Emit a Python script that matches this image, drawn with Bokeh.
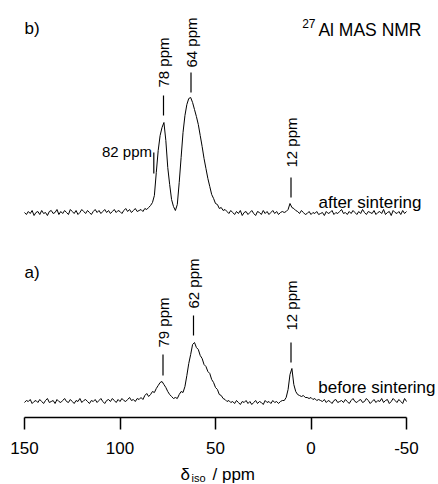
import math
from bokeh.plotting import figure
from bokeh.models import Range1d, FixedTicker, Label
from bokeh.layouts import column
from bokeh.embed import file_html
from bokeh.resources import INLINE

# ---------------- data ----------------
ppm = list(range(150, -51, -1))

# b) after sintering (intensity, arbitrary units) 150 -> -50 ppm, 1 ppm steps
after_sintering = [
    # 150 .. 91
    0, -2, 1, -1, 2, -3, 0, 1, -2, 2, -1, 0, -3, 1, 2, -1, 0, 3, -2, 1,
    -1, 2, 0, -2, 3, 1, -1, 2, -2, 0, 3, 1, -1, 2, 0, -2, 1, 3, 0, 2,
    -1, 1, 3, 0, 2, -1, 1, 3, 0, 2, 1, -1, 2, 4, 1, 3, 0, 2, 4, 1,
    # 90 .. 45
    2, 3, 1, 4, 3, 5, 7, 10, 17, 40, 62, 77, 85, 90, 72, 45, 28, 13, 6, 2,
    8, 30, 55, 80, 97, 108, 114, 115, 110, 103, 96, 88, 77, 66, 54, 44, 34, 26, 18, 14,
    9, 8, 4, 5, 2, 3,
    # 44 .. 15
    1, -1, 2, 0, -2, 1, -1, 2, -3, 0, 1, -2, 0, 2, -1, -3, 1, 0, -2, 2,
    -1, 1, -2, 0, 2, -1, 1, -2, 0, 1,
    # 14 .. 8
    0, 1, 3, 9, 5, 4, 2,
    # 7 .. -50
    1, -1, 2, 0, -2, -1, 1, -2, 0, -1, 1, -2, -1, 0, -3, 1, -1, 0, 2, -2,
    0, -1, 1, 3, -1, 0, -2, 1, -1, 2, 0, -2, 1, -1, 3, 0, -2, 1, 0, -1,
    2, -2, 0, 1, -1, 3, -2, 0, 1, -3, 2, 0, -1, 1, -2, 2, -1, 1,
]

# a) before sintering
before_sintering = [
    # 150 .. 91
    -1, 1, 0, 2, -2, 0, 1, -1, 2, 0, -2, 1, 3, -1, 0, 1, -2, 2, 0, -1,
    1, 3, 0, -1, 2, 0, -2, 1, 0, 3, -1, 1, 2, 0, -2, 1, 0, 2, -1, 1,
    3, 0, -2, 1, 2, 0, 3, 1, -1, 2, 0, 3, 1, 0, 2, 4, 1, 2, 0, 3,
    # 90 .. 43
    2, 4, 2, 6, 8, 5, 7, 10, 9, 13, 16, 19, 20, 17, 14, 10, 7, 5, 3, 4,
    3, 7, 10, 9, 15, 26, 38, 47, 57, 59, 54, 52, 46, 43, 37, 35, 30, 28, 22, 19,
    14, 12, 7, 6, 3, 2, 0, 1,
    # 42 .. 16
    -1, 0, -2, 1, -1, -3, 0, -1, 1, -2, 0, -3, -1, 1, -2, 0, -1, -3, 1, -1,
    0, -2, 1, -1, 0, -2, 0,
    # 15 .. -5
    1, 1, 4, 12, 27, 33, 17, 10, 7, 6, 5, 6, 4, 4, 3, 4, 2, 3, 1, 2, 1,
    # -6 .. -50
    0, 2, -1, 1, 0, -2, 1, 2, -1, 0, 1, -1, 2, 0, -2, 1, 3, 0, -1, 1,
    2, -1, 0, 3, 1, -2, 0, 2, -1, 1, 0, 3, -1, 1, 2, -2, 0, 3, 1, -1, 2, 0, -2, 3, 0,
]

tick_values = [150, 100, 50, 0, -50]
tick_labels = ["150", "100", "50", "0", "-50"]

after_peak_labels = ["78 ppm", "64 ppm", "12 ppm"]
before_peak_labels = ["79 ppm", "62 ppm", "12 ppm"]
shoulder_label = "82 ppm"

# ---------------- layout constants ----------------
W = 438
H1, H2 = 462, 22
FRAME_BOTTOM = 417          # axis line, pixels from top
X_LEFT_PX, X_RIGHT_PX = 24, 406   # pixel positions of 150 and -50 ppm
PX_PER_PPM = (X_RIGHT_PX - X_LEFT_PX) / 200.0
BASE_A = 16     # baseline of spectrum a) (pixels above axis)
BASE_B = 205    # baseline of spectrum b)
FONT = "Liberation Sans"


def px(x):
    """pixel column -> ppm"""
    return 150 - (x - X_LEFT_PX) / PX_PER_PPM


xr = Range1d(px(0), px(W))

p = figure(width=W, height=H1, x_range=xr, y_range=Range1d(0, FRAME_BOTTOM),
           output_backend="svg", toolbar_location=None, y_axis_type=None,
           min_border_left=0, min_border_right=0,
           min_border_top=0, min_border_bottom=H1 - FRAME_BOTTOM)
p.outline_line_color = None
p.grid.visible = False

p.line(ppm, [v + BASE_B for v in after_sintering], line_color="black", line_width=1)
p.line(ppm, [v + BASE_A for v in before_sintering], line_color="black", line_width=1)

ax = p.xaxis[0]
ax.bounds = (-50, 150)
ax.ticker = FixedTicker(ticks=tick_values)
ax.major_label_overrides = {t: l for t, l in zip(tick_values, tick_labels)}
ax.minor_tick_line_color = None
ax.major_tick_in = 0
ax.major_tick_out = 12
ax.major_tick_line_width = 1.5
ax.major_tick_line_color = "black"
ax.axis_line_width = 1.5
ax.axis_line_color = "black"
ax.major_label_standoff = 12
ax.major_label_text_font = FONT
ax.major_label_text_font_size = "17px"
ax.major_label_text_color = "black"


def lab(fig, x, y, text, size="17px", align="left", baseline="alphabetic", angle=0.0):
    fig.add_layout(Label(x=x, y=y, text=text, text_font=FONT, text_font_size=size,
                         text_color="black", text_align=align, text_baseline=baseline,
                         angle=angle))


def yp(page_y):
    return FRAME_BOTTOM - page_y


# panel letters and title
lab(p, px(24), yp(18), "b)", baseline="top")
lab(p, px(24), yp(262), "a)", baseline="top")
lab(p, px(421), yp(19), "Al MAS NMR", size="17.5px", align="right", baseline="top")
lab(p, px(315), yp(18), "27", size="12px", align="right", baseline="top")

# spectrum names
lab(p, px(421), yp(202), "after sintering", align="right")
lab(p, px(435), yp(387), "before sintering", align="right")

# rotated peak labels with leader lines: (pixel x, text bottom, line top, line bottom)
after_pos = [(163, 87, 95, 115), (190.5, 67, 72, 92), (290.5, 167, 177, 197)]
before_pos = [(162.5, 347, 354, 375), (193, 308, 315, 335), (290.5, 330, 342, 362)]
for text, (x, yt, y0, y1) in list(zip(after_peak_labels, after_pos)) + list(zip(before_peak_labels, before_pos)):
    lab(p, px(x), yp(yt), text, size="15px", align="left", baseline="middle", angle=math.pi / 2)
    p.segment(x0=[px(x)], y0=[yp(y0)], x1=[px(x)], y1=[yp(y1)], line_color="black", line_width=1.2)

# shoulder label
lab(p, px(151.5), yp(151), shoulder_label, size="15px", align="right")
p.segment(x0=[px(153.3)], y0=[yp(152)], x1=[px(153.3)], y1=[yp(173)], line_color="black", line_width=1.2)

# ---------- axis title strip: delta_iso / ppm ----------
q = figure(width=W, height=H2, x_range=xr, y_range=Range1d(0, H2),
           output_backend="svg", toolbar_location=None,
           x_axis_type=None, y_axis_type=None,
           min_border_left=0, min_border_right=0, min_border_top=0, min_border_bottom=0)
q.outline_line_color = None
q.grid.visible = False
lab(q, px(180), 10, "δ", size="17px")
lab(q, px(191), 7, "iso", size="11px")
lab(q, px(212), 10, "/ ppm", size="17px")

layout = column(p, q, spacing=0)
open("out.html", "w").write(file_html(layout, INLINE))
